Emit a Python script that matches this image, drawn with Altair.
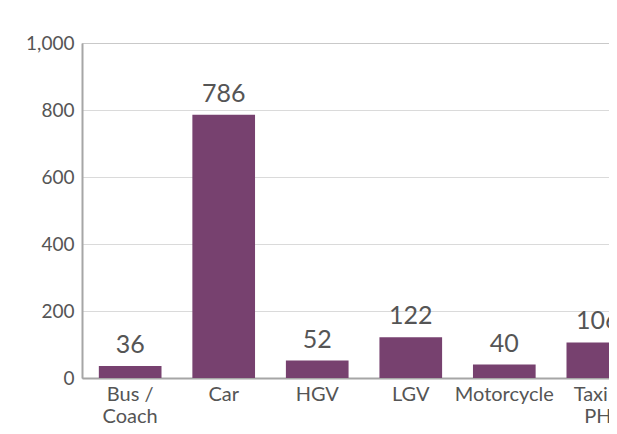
import altair as alt
import pandas as pd

categories = ["Bus / Coach", "Car", "HGV", "LGV", "Motorcycle", "Taxi / PH"]
values = [36, 786, 52, 122, 40, 106]

df = pd.DataFrame({"category": categories, "value": values})

FONT = "Lato"
TXT = "#555555"

x = alt.X(
    "category:N",
    sort=categories,
    title=None,
    scale=alt.Scale(range=[0, 564], paddingInner=0.33, paddingOuter=0.18),
    axis=alt.Axis(
        labelAngle=0,
        labelFont=FONT,
        labelFontSize=20,
        labelColor=TXT,
        labelPadding=6,
        ticks=False,
        domainColor="#a6a6a6",
        domainWidth=2,
        labelLimit=200,
        labelLineHeight=22,
        labelExpr="datum.value == 'Bus / Coach' ? ['Bus /', 'Coach'] : datum.value == 'Taxi / PH' ? ['Taxi /', 'PH'] : datum.value",
    ),
)
y = alt.Y(
    "value:Q",
    title=None,
    scale=alt.Scale(domain=[0, 1000], nice=False),
    axis=alt.Axis(
        values=[0, 200, 400, 600, 800, 1000],
        format=",d",
        labelFont=FONT,
        labelFontSize=19,
        labelColor=TXT,
        labelPadding=8,
        ticks=False,
        domainColor="#a6a6a6",
        domainWidth=2,
        grid=True,
        gridColor="#b5b5b5",
        gridDash=[1, 1],
        gridWidth=1,
    ),
)

bars = alt.Chart(df).mark_bar(color="#77416f").encode(x=x, y=y)
labels = alt.Chart(df).mark_text(
    baseline="bottom", dy=-8, font=FONT, fontSize=25, color=TXT
).encode(x=alt.X("category:N", sort=categories), y="value:Q", text="value:Q")

chart = (
    alt.layer(bars, labels)
    .properties(
        width=527,
        height=335,
        autosize=alt.AutoSizeParams(type="none"),
        padding={"left": 74, "top": 35, "right": 0, "bottom": 48},
    )
    .configure_view(stroke=None)
    .configure(background="white")
)

chart.save("out.html", embed_options={"renderer": "svg", "actions": False})
